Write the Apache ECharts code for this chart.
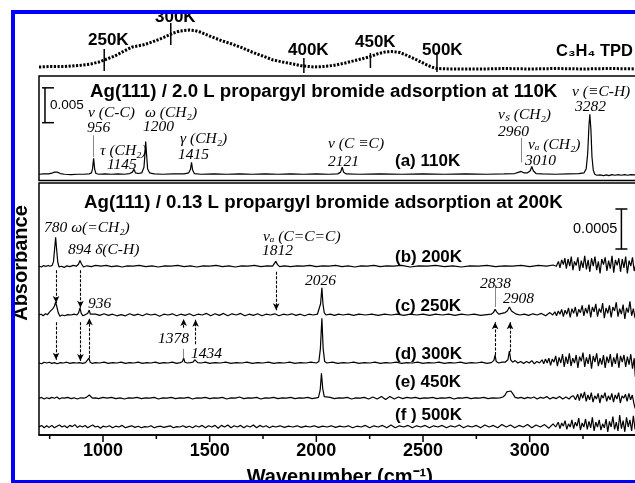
<!DOCTYPE html>
<html><head><meta charset="utf-8">
<script src="https://cdn.jsdelivr.net/npm/echarts@6/dist/echarts.min.js"></script>
<style>html,body{margin:0;padding:0;background:#fff}#c{width:635px;height:483px}</style>
</head><body><div id="c"></div>
<script>
// ---------- TPD (temperature K, signal) ----------
const tpdCurve = [[201,3],[210,3.5],[220,3.5],[231,4.5],[240,6],[246,8],[252,11],[258,14],[265,19],[271,23],[279,25],[286,28],[292,31],[297,34],[302,37],[307,39],[314,40],[318,39.5],[322,38],[331,33],[339,29],[346,26],[354,22],[361,18],[369,14],[377,10],[384,8],[392,6],[399,4],[408,3],[415,3.5],[422,4.5],[431,7],[440,10],[449,13],[455,16],[461,18],[466,18.5],[472,17.5],[476,15.5],[480,13],[485,10],[491,6],[496,3],[500,1.5],[510,1],[520,1],[535,1],[550,1.5],[570,1],[590,1.5],[610,1],[630,1.5],[653,1]];
const tpdTickTemps = [250, 300, 400, 450, 500];
const tpdTickLow = [-1, 25, -3, 2, -2];
const tpdTickHigh = [21, 47, 12, 17, 18];

// ---------- x axis ticks (cm-1) ----------
const xTickValues = [750,1000,1250,1500,1750,2000,2250,2500,2750,3000,3250];
const xLabelValues = [1000,1500,2000,2500,3000];

// ---------- (a) 110K spectrum: [wavenumber, absorbance x1e4] ----------
const specA = [[700,0],[720,0.5],[745,0.5],[760,1.5],[772,3],[785,3],[800,1],[820,0],[850,-0.5],[880,0],[910,0],[935,0.5],[946,2],[951,8],[956,23],[961,7],[967,1],[980,0],[1010,0.5],[1040,0],[1070,0.5],[1100,0],[1125,1],[1138,3],[1145,7],[1152,2],[1165,1],[1182,2],[1192,10],[1197,30],[1200,47],[1204,30],[1209,8],[1218,2],[1240,0.5],[1280,0],[1330,0.5],[1380,0.5],[1402,2],[1410,7],[1415,17],[1420,6],[1428,1],[1460,0],[1520,0.5],[1580,0],[1640,0.5],[1700,0],[1760,0.5],[1820,0],[1880,0.5],[1940,0],[2000,0.5],[2060,0],[2100,0.5],[2114,3],[2121,10],[2128,3],[2140,0.5],[2200,0],[2300,0.5],[2400,0],[2500,0.5],[2600,0],[2700,0.5],[2800,0],[2880,0.5],[2930,1],[2950,3],[2960,4],[2972,2],[2990,2],[3003,5],[3010,11],[3017,5],[3030,1],[3060,0.5],[3120,0],[3180,0.5],[3230,1],[3255,2],[3265,8],[3272,30],[3278,70],[3282,86],[3287,65],[3292,25],[3298,6],[3305,0],[3315,-1.5],[3330,-1],[3345,-2],[3360,-1],[3372,-2],[3385,-0.5],[3400,-1.5],[3415,-0.5],[3430,-1.5],[3445,-0.5],[3460,-1.5],[3475,-0.5],[3490,-1],[3500,-0.5],[3510,-1.5],[3520,-1]];

// ---------- (b)-(f) spectra: [wavenumber, absorbance x1e5] relative to own baseline ----------
const specB = [[700,0],[712,-1],[722,1],[732,-0.5],[742,1],[752,0],[762,1],[768,6],[774,24],[778,36],[783,20],[788,5],[794,-1],[805,0],[818,-1.5],[830,0.5],[845,-0.5],[860,1],[875,0],[885,2.5],[892,7],[899,3],[908,-1],[925,0.5],[945,-0.5],[965,1],[990,0],[1015,1],[1040,-0.5],[1065,0.5],[1090,-1],[1115,0.5],[1140,0],[1170,1],[1200,-0.5],[1230,0.5],[1260,-1],[1290,0.5],[1320,0],[1350,1],[1380,-0.5],[1410,0.5],[1440,-1],[1470,0.5],[1500,0],[1530,1],[1560,-0.5],[1590,0.5],[1620,-1],[1650,0.5],[1680,0],[1710,1],[1740,-0.5],[1770,0.5],[1795,0],[1803,2.5],[1810,6],[1818,2],[1828,-0.5],[1850,0.5],[1880,-0.5],[1910,0.5],[1940,0],[1970,1],[2000,-0.5],[2030,0.5],[2060,0],[2090,1],[2120,-0.5],[2150,0.5],[2180,-1],[2210,0.5],[2240,0],[2270,1],[2300,-0.5],[2330,0.5],[2360,0],[2400,1],[2440,-1],[2480,0.5],[2520,0],[2560,1],[2600,-0.5],[2640,0.5],[2680,-1],[2720,0.5],[2760,0],[2800,1],[2840,-0.5],[2880,0.5],[2920,0],[2960,1],[3000,-0.5],[3040,1],[3080,0],[3110,1.5],[3125,0],[3135,6],[3142,-2],[3150,8],[3158,2],[3165,10],[3172,-3],[3180,9],[3188,0],[3195,12],[3203,-5],[3210,6],[3218,1],[3226,11],[3234,-6],[3242,7],[3250,-2],[3258,13],[3266,-4],[3274,8],[3282,-7],[3290,10],[3298,0],[3306,12],[3314,-5],[3322,6],[3330,-9],[3338,9],[3346,2],[3354,11],[3362,-6],[3370,7],[3378,-3],[3386,13],[3394,-8],[3402,8],[3410,1],[3418,10],[3426,-7],[3434,9],[3442,-2],[3450,12],[3458,-9],[3466,7],[3474,0],[3482,11],[3490,-6],[3500,5],[3510,-4],[3520,8]];
const specC = [[700,0],[710,1],[720,-1],[730,1.5],[740,0.5],[750,4],[758,5],[765,8],[772,11],[778,16],[784,10],[790,3],[798,-1.5],[808,0],[820,-1],[835,0.5],[850,0],[865,1],[878,0],[886,3],[892,9],[898,2],[906,-1],[918,0.5],[928,2],[935,6],[941,1],[950,-0.5],[965,1],[985,-0.5],[1005,1.5],[1025,-0.5],[1045,1],[1065,-1],[1085,0.5],[1105,-1],[1125,1.5],[1145,-0.5],[1165,1],[1185,-1],[1205,1.5],[1225,0],[1245,1],[1265,-1.5],[1285,1],[1305,0],[1325,1.5],[1345,-1],[1365,1],[1385,-0.5],[1405,1.5],[1425,-1],[1445,1],[1465,0],[1485,2],[1505,-1],[1525,1.5],[1545,-0.5],[1565,2],[1585,-1],[1605,1.5],[1625,0],[1645,2],[1665,-1],[1685,1],[1705,-0.5],[1725,1.5],[1745,-1],[1765,1],[1785,0],[1805,1.5],[1825,-1],[1845,1],[1865,0],[1885,1.5],[1905,-0.5],[1925,1],[1945,-1],[1965,1],[1985,0],[2005,1],[2014,3],[2020,14],[2026,34],[2031,14],[2037,3],[2045,0],[2065,1],[2085,-0.5],[2105,1],[2125,0],[2150,1],[2175,-0.5],[2200,1],[2230,0],[2260,1],[2290,-0.5],[2320,1],[2350,0],[2380,1],[2410,-0.5],[2440,1],[2470,0],[2500,1],[2530,-0.5],[2560,1],[2590,0],[2620,1],[2650,-0.5],[2680,1],[2710,0],[2740,1],[2770,-0.5],[2800,0.5],[2820,1],[2830,3],[2838,7],[2845,4],[2855,1],[2870,2],[2885,3],[2895,5],[2905,10],[2915,5],[2925,3],[2938,1],[2955,0],[2975,1],[2995,-0.5],[3015,1.5],[3035,0],[3055,2],[3075,-1],[3095,3],[3108,0],[3118,4],[3126,-1],[3134,5],[3142,1],[3150,7],[3158,-2],[3166,6],[3174,1],[3182,9],[3190,-3],[3198,8],[3206,2],[3214,10],[3222,-2],[3230,7],[3238,3],[3246,12],[3254,-1],[3262,9],[3270,2],[3278,13],[3286,-3],[3294,10],[3302,4],[3310,14],[3318,-2],[3326,8],[3334,3],[3342,15],[3350,-4],[3358,9],[3366,2],[3374,12],[3382,-3],[3390,10],[3398,5],[3406,16],[3414,-2],[3422,8],[3430,1],[3438,13],[3446,-5],[3454,9],[3462,3],[3470,17],[3478,-1],[3486,8],[3494,-4],[3500,6],[3510,-2],[3520,9]];
const specD = [[700,0],[712,-1],[724,1],[736,0],[748,1],[760,-0.5],[772,0.5],[785,-1],[800,0.5],[815,0],[830,1],[845,-0.5],[860,0.5],[875,0],[890,0.5],[905,-0.5],[918,0.5],[927,1.5],[934,6],[940,1],[950,-0.5],[965,0.5],[985,0],[1005,1],[1025,-0.5],[1045,0.5],[1065,0],[1085,1],[1105,-0.5],[1125,0.5],[1145,0],[1165,1],[1185,-0.5],[1205,0.5],[1225,0],[1245,1],[1265,-0.5],[1285,0.5],[1305,0],[1325,1],[1345,-0.5],[1362,0.5],[1372,1.5],[1378,6],[1384,1],[1395,0],[1410,0.5],[1422,1],[1430,4],[1436,3],[1444,0.5],[1460,0],[1480,1],[1500,-0.5],[1525,0.5],[1550,0],[1575,1],[1600,-0.5],[1625,0.5],[1650,0],[1675,1],[1700,-0.5],[1725,0.5],[1750,0],[1775,1],[1800,-0.5],[1825,0.5],[1850,0],[1875,1],[1900,-0.5],[1925,0.5],[1950,0],[1975,1],[2000,0],[2012,2],[2019,18],[2026,56],[2032,18],[2039,2],[2050,0],[2075,1],[2100,-0.5],[2125,0.5],[2150,0],[2175,1],[2200,-0.5],[2225,0.5],[2250,0],[2275,1],[2300,-0.5],[2325,0.5],[2350,0],[2375,1],[2400,-0.5],[2425,0.5],[2450,0],[2475,1],[2500,-0.5],[2525,0.5],[2550,0],[2575,1],[2600,-0.5],[2625,0.5],[2650,0],[2675,1],[2700,-0.5],[2725,0.5],[2750,0],[2775,1],[2800,-0.5],[2820,0.5],[2832,3],[2838,10],[2843,2],[2855,0],[2870,1],[2885,1],[2898,4],[2905,15],[2911,4],[2920,1],[2932,3],[2945,0],[2958,2],[2972,-0.5],[2985,2],[2998,0],[3010,3],[3022,-1],[3034,2],[3046,0],[3058,4],[3066,-1],[3074,5],[3082,0],[3090,6],[3098,-3],[3106,5],[3114,1],[3122,9],[3130,-4],[3138,7],[3146,0],[3154,11],[3162,-5],[3170,8],[3178,-1],[3186,12],[3194,-4],[3202,6],[3210,0],[3218,10],[3226,-6],[3234,8],[3242,2],[3250,13],[3258,-5],[3266,7],[3274,-1],[3282,11],[3290,-7],[3298,9],[3306,1],[3314,12],[3322,-4],[3330,6],[3338,-2],[3346,10],[3354,-6],[3362,8],[3370,0],[3378,11],[3386,-5],[3394,7],[3402,-1],[3410,12],[3418,-6],[3426,9],[3434,1],[3442,10],[3450,-5],[3458,8],[3466,-2],[3474,11],[3482,-7],[3490,6],[3495,-17],[3500,2],[3510,-5],[3520,7]];
const specE = [[700,0],[712,1],[724,-1],[736,0.5],[748,-0.5],[760,1],[772,0],[784,1.5],[796,-1],[808,0.5],[820,0],[835,1],[850,-0.5],[865,0.5],[880,-1],[895,0.5],[910,0],[922,1],[930,2.5],[936,4],[942,1.5],[950,0],[965,0.5],[980,-0.5],[1000,1],[1020,0],[1040,1],[1060,-0.5],[1080,0.5],[1100,-1],[1120,0.5],[1140,0],[1160,1],[1180,-0.5],[1200,0.5],[1220,0],[1240,1],[1260,-1],[1280,0.5],[1300,0],[1320,1],[1340,-0.5],[1360,0.5],[1380,0],[1400,1],[1420,-1],[1440,0.5],[1460,0],[1480,1],[1500,-0.5],[1520,0.5],[1540,0],[1560,1],[1580,-1],[1600,0.5],[1620,0],[1640,1.5],[1660,-0.5],[1680,0.5],[1700,0],[1720,1],[1740,-1],[1760,0.5],[1780,0],[1800,1],[1820,-0.5],[1840,0.5],[1860,0],[1880,1],[1900,-0.5],[1920,0.5],[1940,0],[1960,1],[1980,-0.5],[2000,0.5],[2010,1],[2018,10],[2024,31],[2030,12],[2037,2],[2045,0],[2065,1],[2085,-0.5],[2105,0.5],[2125,0],[2145,1],[2165,-1],[2185,0.5],[2205,0],[2225,1],[2245,-1],[2265,1.5],[2285,-1],[2305,2],[2325,-1.5],[2345,2],[2365,-1],[2385,1.5],[2405,-0.5],[2425,1],[2445,0],[2465,1],[2485,-0.5],[2505,0.5],[2525,0],[2545,1],[2565,-0.5],[2585,0.5],[2605,0],[2625,1],[2645,-1],[2665,0.5],[2685,0],[2705,1],[2725,-0.5],[2745,0.5],[2765,0],[2785,1],[2805,-0.5],[2825,0.5],[2845,0],[2860,0.5],[2875,1.5],[2885,4],[2893,8],[2902,10],[2912,9],[2922,5],[2932,1],[2945,0],[2960,1],[2975,-0.5],[2990,1],[3005,0],[3020,1.5],[3035,-1],[3050,1],[3065,0],[3080,2],[3095,-1],[3110,1],[3125,-0.5],[3140,2],[3155,-1],[3170,1.5],[3185,-1],[3195,2],[3205,3],[3215,-2],[3225,5],[3233,-3],[3241,6],[3249,0],[3257,8],[3265,-4],[3273,4],[3281,-2],[3289,7],[3297,-5],[3305,3],[3313,-1],[3321,6],[3329,-6],[3337,4],[3345,0],[3353,7],[3361,-4],[3369,3],[3377,-2],[3385,6],[3393,-5],[3401,4],[3409,-1],[3417,7],[3425,-6],[3433,3],[3441,0],[3449,5],[3457,-4],[3465,6],[3473,-2],[3481,4],[3489,-7],[3495,-13],[3500,2],[3510,-3],[3520,5]];
const specF = [[700,0],[712,2],[724,-1],[736,1.5],[748,-0.5],[760,2],[772,-1],[784,1],[796,2.5],[808,0],[820,1.5],[832,-1],[844,2],[856,0.5],[868,3],[880,-0.5],[892,1.5],[904,0],[916,2],[928,-1],[940,1],[952,2.5],[964,0],[976,1],[988,-1.5],[1000,1],[1015,0],[1030,1.5],[1045,-1],[1060,1],[1075,0],[1090,2],[1105,-1],[1120,0.5],[1135,1.5],[1150,-0.5],[1165,1],[1180,-1],[1195,0.5],[1210,0],[1225,1.5],[1240,-1],[1255,0.5],[1270,1],[1285,-0.5],[1300,0.5],[1315,1.5],[1330,-1],[1345,0.5],[1360,0],[1375,1.5],[1390,-0.5],[1405,1],[1420,-1],[1435,1.5],[1450,0],[1465,2],[1480,-1],[1495,1.5],[1510,0],[1525,2],[1540,-1.5],[1555,2],[1570,0],[1585,2.5],[1600,-1],[1615,1.5],[1630,0],[1645,2],[1660,-1],[1675,1.5],[1690,0],[1705,2.5],[1720,-1],[1735,2],[1750,0],[1765,1.5],[1780,-1],[1795,1],[1810,0],[1830,1.5],[1850,-0.5],[1870,1],[1890,0],[1910,1.5],[1930,-0.5],[1950,1],[1970,0],[1990,1.5],[2010,-0.5],[2030,1],[2050,0],[2070,1.5],[2090,-0.5],[2110,1],[2130,0],[2150,1.5],[2170,-1],[2190,1],[2210,0],[2230,2],[2250,-1],[2270,1.5],[2290,0],[2310,2],[2330,-1],[2350,2.5],[2370,-1],[2390,1.5],[2410,0],[2430,2],[2450,-1],[2470,1.5],[2490,0],[2510,2],[2530,-1],[2550,1.5],[2570,0],[2590,2],[2610,-1],[2630,1.5],[2650,0],[2670,2.5],[2690,-1],[2710,1.5],[2730,0],[2750,2],[2770,-1],[2790,2.5],[2810,0],[2830,2],[2850,-1],[2870,3],[2890,0],[2910,2.5],[2930,-1],[2950,2],[2970,0],[2990,3],[3010,-1],[3030,2.5],[3050,0],[3070,3],[3090,-1.5],[3110,4],[3122,0],[3134,6],[3142,-2],[3150,5],[3158,1],[3166,8],[3174,-3],[3182,4],[3190,0],[3198,9],[3206,-2],[3214,6],[3222,1],[3230,11],[3238,-4],[3246,5],[3254,0],[3262,10],[3270,-3],[3278,7],[3286,-1],[3294,12],[3302,-5],[3310,6],[3318,0],[3326,9],[3334,-4],[3342,4],[3350,-1],[3358,10],[3366,-6],[3374,7],[3382,0],[3390,13],[3398,-3],[3406,6],[3414,-5],[3422,15],[3430,-2],[3438,8],[3446,-6],[3454,12],[3462,0],[3470,9],[3478,-5],[3486,14],[3494,-3],[3500,10],[3510,-2],[3520,8]];
const lowerSpectra = [specB, specC, specD, specE, specF];
const lowerOffsets = [211, 150, 90, 46, 10];

// arrows in lower panel: [wavenumber, from, to]
const arrows = [[780,206,165],[780,141,94],[894,206,159],[894,141,92.5],[936,96,146],[1812,204,156],[1378,134,145],[1434,113.5,144],[2838,100,141],[2908,104,141]];
// leader lines
const leadersA = [[956,25,56],[2960,17,52]];
const leadersLower = [[1378,96,107.5],[2838,160,187.5]];
// scale bars: [wavenumber, top, bottom]
const scaleA = [[728,124,74]];
const scaleLower = [[3430,282.5,232.5]];

const chart = echarts.init(document.getElementById('c'), null, {renderer: 'canvas'});
const SANS = '"Liberation Sans", Arial, sans-serif';
const SERIF = '"Liberation Serif", "Times New Roman", serif';
const L = 39, W = 601.6;

function lineSeries(data, xi, off, extra) {
  return Object.assign({
    type: 'line', xAxisIndex: xi, yAxisIndex: xi,
    data: data.map(p => [p[0], p[1] + off]),
    showSymbol: false, symbol: 'none', silent: true,
    lineStyle: {color: '#000', width: 1.2}
  }, extra || {});
}
function segs(list) { return list.map(a => [{coord: [a[0], a[1]]}, {coord: [a[0], a[2]]}]); }

function scaleBar(xi, data, capL, capR, label, labelSide, fontSize) {
  return {
    type: 'custom', xAxisIndex: xi, yAxisIndex: xi, data: data, silent: true,
    encode: {x: 0, y: [1, 2]},
    renderItem: (p, api) => {
      const a = api.coord([api.value(0), api.value(1)]);
      const b = api.coord([api.value(0), api.value(2)]);
      const st = {stroke: '#000', lineWidth: 1.5};
      const kids = [
        {type: 'line', shape: {x1: a[0], y1: a[1], x2: b[0], y2: b[1]}, style: st},
        {type: 'line', shape: {x1: a[0] + capL, y1: a[1], x2: a[0] + capR, y2: a[1]}, style: st},
        {type: 'line', shape: {x1: b[0] + capL, y1: b[1], x2: b[0] + capR, y2: b[1]}, style: st},
        {type: 'text', x: labelSide > 0 ? a[0] + 5 : a[0] - 4, y: (a[1] + b[1]) / 2,
          style: {text: label, font: fontSize + 'px ' + SANS, fill: '#000',
            textAlign: labelSide > 0 ? 'left' : 'right', textVerticalAlign: 'middle'}}
      ];
      return {type: 'group', children: kids};
    }
  };
}

const series = [];
// TPD
series.push({type: 'line', xAxisIndex: 0, yAxisIndex: 0, data: tpdCurve, showSymbol: false, silent: true,
  lineStyle: {color: '#000', width: 3, type: [2.2, 1.5]}});
series.push({type: 'custom', xAxisIndex: 0, yAxisIndex: 0, silent: true,
  data: tpdTickTemps.map((t, i) => [t, tpdTickLow[i], tpdTickHigh[i]]),
  encode: {x: 0, y: [1, 2]},
  renderItem: (p, api) => {
    const a = api.coord([api.value(0), api.value(1)]);
    const b = api.coord([api.value(0), api.value(2)]);
    return {type: 'line', shape: {x1: a[0], y1: a[1], x2: b[0], y2: b[1]}, style: {stroke: '#000', lineWidth: 1.5}};
  }});
// panel (a)
series.push(lineSeries(specA, 1, 0, {
  markLine: {silent: true, symbol: 'none', label: {show: false}, animation: false,
    lineStyle: {color: '#888', width: 1, type: 'solid'}, data: segs(leadersA)}
}));
series.push(scaleBar(1, scaleA, -3, 9, '0.005', 1, 13.5));
// lower panels
lowerSpectra.forEach((s, i) => {
  let extra = {};
  if (i === 0) extra = {markLine: {silent: true, symbol: ['none', 'arrow'], symbolSize: [5, 7], label: {show: false}, animation: false,
    lineStyle: {color: '#000', width: 1.1, type: [3, 1.5]}, data: segs(arrows)}};
  if (i === 1) extra = {markLine: {silent: true, symbol: 'none', label: {show: false}, animation: false,
    lineStyle: {color: '#888', width: 1, type: 'solid'}, data: segs(leadersLower)}};
  series.push(lineSeries(s, 2, lowerOffsets[i], extra));
});
series.push(scaleBar(2, scaleLower, -6, 6, '0.0005', -1, 14.5));
// x ticks
series.push({type: 'custom', xAxisIndex: 2, yAxisIndex: 2, silent: true,
  data: xTickValues.map(v => [v, 0]), encode: {x: 0, y: 1},
  renderItem: (p, api) => {
    const v = api.value(0);
    const q = api.coord([v, 0]);
    const len = (xLabelValues.indexOf(v) >= 0) ? 7 : 4;
    return {type: 'line', shape: {x1: q[0], y1: q[1], x2: q[0], y2: q[1] + len}, style: {stroke: '#000', lineWidth: 1.5}};
  }});

// text annotations
function t(text, x, y, font, extra) {
  return Object.assign({type: 'text', x: x, y: y, z: 50, silent: true,
    style: {text: text, font: font, fill: '#000', textAlign: 'left', textVerticalAlign: 'middle'}}, extra || {});
}
const TITLE = 'bold 18.7px ' + SANS;
const LAB = 'bold 17px ' + SANS;
const IT = 'italic 15.5px ' + SERIF;
const texts = [
  // TPD
  t('250K', 88, 40, LAB), t('300K', 155, 17, LAB), t('400K', 288, 50, LAB), t('450K', 355, 42, LAB),
  t('500K', 422, 50, LAB), t('C\u2083H\u2084 TPD', 556, 51, 'bold 16.5px ' + SANS),
  // panel a
  t('Ag(111) / 2.0 L propargyl bromide adsorption at 110K', 90, 92, TITLE),
  t('\u03bd (C-C)', 88, 113, IT), t('956', 87, 128, IT),
  t('\u03c9 (CH\u2082)', 145, 113, IT), t('1200', 143, 127, IT),
  t('\u03c4 (CH\u2082)', 100, 151, IT), t('1145', 107, 165, IT),
  t('\u03b3 (CH\u2082)', 180, 139, IT), t('1415', 178, 155, IT),
  t('\u03bd (C \u2261C)', 328, 144, IT), t('2121', 328, 162, IT),
  t('(a) 110K', 395, 161, LAB),
  t('\u03bd\u209b (CH\u2082)', 498, 115, IT), t('2960', 498, 132, IT),
  t('\u03bd\u2090 (CH\u2082)', 528, 145, IT), t('3010', 525, 161, IT),
  t('\u03bd (\u2261C-H)', 572, 92, IT), t('3282', 575, 107, IT),
  // lower panel
  t('Ag(111) / 0.13 L propargyl bromide adsorption at 200K', 84, 203, TITLE),
  t('780 \u03c9(=CH\u2082)', 44, 228, IT), t('894 \u03b4(C-H)', 68, 250, IT),
  t('\u03bd\u2090 (C=C=C)', 263, 237, IT), t('1812', 262, 251, IT),
  t('(b) 200K', 395, 257, LAB),
  t('2026', 305, 281, IT), t('936', 88, 304, IT), t('(c) 250K', 395, 306, LAB),
  t('2838', 480, 284, IT), t('2908', 503, 299, IT),
  t('1378', 158, 339, IT), t('1434', 191, 354, IT), t('(d) 300K', 395, 354, LAB),
  t('(e) 450K', 395, 382, LAB), t('(f ) 500K', 395, 415, LAB),
  t('Absorbance', 21, 263, 'bold 20px ' + SANS, {rotation: Math.PI / 2,
    style: {text: 'Absorbance', font: 'bold 20px ' + SANS, fill: '#000', textAlign: 'center', textVerticalAlign: 'middle'}}),
  // blue frame
  {type: 'rect', z: 100, silent: true, shape: {x: 13, y: 12, width: 640, height: 470},
    style: {fill: 'none', stroke: '#0000ff', lineWidth: 4}}
];

const hiddenX = (gi, mn, mx) => ({type: 'value', gridIndex: gi, min: mn, max: mx, show: false});
const hiddenY = (gi, mn, mx) => ({type: 'value', gridIndex: gi, min: mn, max: mx, show: false});

chart.setOption({
  animation: false,
  backgroundColor: '#fff',
  grid: [
    {left: L, top: 20, width: W, height: 60, outerBoundsMode: 'none', containLabel: false},
    {left: L, top: 76, width: W, height: 104.5, show: true, borderColor: '#000', borderWidth: 1.5, outerBoundsMode: 'none', containLabel: false},
    {left: L, top: 183, width: W, height: 252, show: true, borderColor: '#000', borderWidth: 1.5, outerBoundsMode: 'none', containLabel: false}
  ],
  xAxis: [
    hiddenX(0, 201, 653),
    hiddenX(1, 700, 3520),
    {type: 'value', gridIndex: 2, min: 700, max: 3520, splitNumber: 5,
      axisLine: {lineStyle: {color: '#000', width: 1.5}}, axisTick: {show: false}, splitLine: {show: false},
      axisLabel: {color: '#000', fontFamily: 'Liberation Sans', fontWeight: 'bold', fontSize: 18, margin: 7,
        showMinLabel: false, showMaxLabel: false,
        formatter: v => (xLabelValues.indexOf(v) >= 0 ? String(v) : '')},
      name: 'Wavenumber (cm\u207b\u00b9)', nameLocation: 'middle', nameGap: 32,
      nameTextStyle: {color: '#000', fontFamily: 'Liberation Sans', fontWeight: 'bold', fontSize: 20}}
  ],
  yAxis: [hiddenY(0, -10, 50), hiddenY(1, -9, 141), hiddenY(2, 0, 315)],
  series: series,
  graphic: texts
});
</script>
</body></html>
